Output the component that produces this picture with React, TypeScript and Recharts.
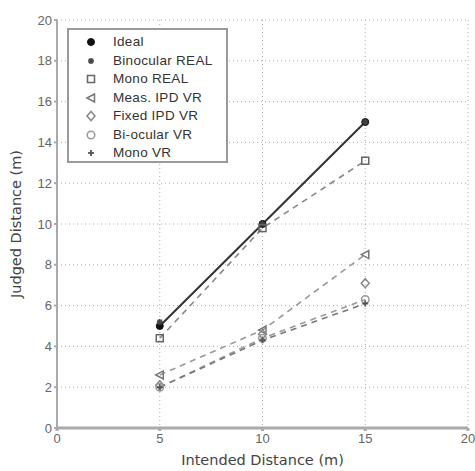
import React from "react";
import { LineChart, Line, XAxis, YAxis, CartesianGrid, Legend } from "recharts";

const intended = [5, 10, 15];
const ideal = [5, 10, 15];
const binocularReal = [5.2, 10.0, 15.0];
const monoReal = [4.4, 9.8, 13.1];
const measIpdVr = [2.6, 4.8, 8.5];
const fixedIpdVr = [2.1, 4.6, 7.1];
const biocularVr = [2.0, 4.4, 6.3];
const monoVr = [2.0, 4.3, 6.1];
const xTicks = [0, 5, 10, 15, 20];
const yTicks = [0, 2, 4, 6, 8, 10, 12, 14, 16, 18, 20];

type Mk = "dot" | "star" | "square" | "tri" | "diamond" | "circle" | "plus";

const series: { name: string; values: number[]; marker: Mk; color: string; line: string; dash?: string }[] = [
  { name: "Ideal", values: ideal, marker: "dot", color: "#111", line: "#333" },
  { name: "Binocular REAL", values: binocularReal, marker: "star", color: "#444", line: "none" },
  { name: "Mono REAL", values: monoReal, marker: "square", color: "#666", line: "#888", dash: "6 5" },
  { name: "Meas. IPD VR", values: measIpdVr, marker: "tri", color: "#777", line: "#999", dash: "6 5" },
  { name: "Fixed IPD VR", values: fixedIpdVr, marker: "diamond", color: "#888", line: "none" },
  { name: "Bi-ocular VR", values: biocularVr, marker: "circle", color: "#999", line: "#999", dash: "6 5" },
  { name: "Mono VR", values: monoVr, marker: "plus", color: "#555", line: "#777", dash: "6 5" },
];

function Marker({ kind, cx, cy, color }: { kind: Mk; cx: number; cy: number; color: string }) {
  switch (kind) {
    case "dot":
      return <circle cx={cx} cy={cy} r={3.5} fill={color} stroke={color} />;
    case "star":
      return (
        <g stroke={color} strokeWidth={1.6}>
          <line x1={cx - 3} y1={cy} x2={cx + 3} y2={cy} />
          <line x1={cx} y1={cy - 3} x2={cx} y2={cy + 3} />
          <line x1={cx - 2.2} y1={cy - 2.2} x2={cx + 2.2} y2={cy + 2.2} />
          <line x1={cx - 2.2} y1={cy + 2.2} x2={cx + 2.2} y2={cy - 2.2} />
        </g>
      );
    case "square":
      return <rect x={cx - 3.5} y={cy - 3.5} width={7} height={7} fill="none" stroke={color} strokeWidth={1.5} />;
    case "tri":
      return <polygon points={`${cx - 4},${cy} ${cx + 3.5},${cy - 4} ${cx + 3.5},${cy + 4}`} fill="none" stroke={color} strokeWidth={1.5} />;
    case "diamond":
      return <polygon points={`${cx},${cy - 4.5} ${cx + 4},${cy} ${cx},${cy + 4.5} ${cx - 4},${cy}`} fill="none" stroke={color} strokeWidth={1.5} />;
    case "circle":
      return <circle cx={cx} cy={cy} r={3.8} fill="none" stroke={color} strokeWidth={1.5} />;
    case "plus":
    default:
      return (
        <g stroke={color} strokeWidth={1.8}>
          <line x1={cx - 3} y1={cy} x2={cx + 3} y2={cy} />
          <line x1={cx} y1={cy - 3} x2={cx} y2={cy + 3} />
        </g>
      );
  }
}

const renderLegend = () => (
  <div
    style={{
      border: "2px solid #9a9a9a",
      background: "#fff",
      width: 161,
      height: 135,
      boxSizing: "border-box",
      paddingTop: 3,
      fontFamily: "'Liberation Sans', Arial, sans-serif",
      fontSize: 13.5,
      lineHeight: "18.5px",
      color: "#333",
    }}
  >
    {series.map((s) => (
      <div key={s.name} style={{ display: "flex", alignItems: "center", height: 18.5 }}>
        <svg width={44} height={18} style={{ flex: "none" }}>
          <Marker kind={s.marker} cx={22} cy={9} color={s.color} />
        </svg>
        <span style={{ whiteSpace: "nowrap", letterSpacing: 0.3 }}>{s.name}</span>
      </div>
    ))}
  </div>
);

export default function App() {
  return (
    <div style={{ position: "absolute", left: 0, top: 0, background: "#fff" }}>
      <LineChart width={475} height={471} margin={{ top: 20, right: 7, left: 0, bottom: 0 }}>
        <CartesianGrid stroke="#aaa" strokeDasharray="1 3" horizontal vertical />
        <XAxis
          type="number"
          dataKey="x"
          domain={[0, 20]}
          ticks={xTicks}
          height={43}
          stroke="#aaa"
          strokeWidth={3}
          tickSize={3}
          tickMargin={3}
          tick={{ fill: "#666", fontSize: 13, fontFamily: "'Liberation Sans', Arial, sans-serif" }}
          label={{
            value: "Intended Distance (m)",
            position: "insideBottom",
            offset: 6,
            fill: "#444",
            fontSize: 14.5,
            fontFamily: "'DejaVu Sans', sans-serif",
          }}
        />
        <YAxis
          type="number"
          domain={[0, 20]}
          ticks={yTicks}
          width={57}
          stroke="#aaa"
          strokeWidth={2}
          tickSize={3}
          tickMargin={2}
          tick={{ fill: "#666", fontSize: 13, fontFamily: "'Liberation Sans', Arial, sans-serif" }}
          label={{
            value: "Judged Distance (m)",
            angle: -90,
            position: "insideLeft",
            offset: 16,
            style: { textAnchor: "middle" },
            fill: "#444",
            fontSize: 14.5,
            fontFamily: "'DejaVu Sans', sans-serif",
          }}
        />
        <Legend
          layout="vertical"
          align="center"
          verticalAlign="middle"
          content={renderLegend}
          wrapperStyle={{ left: 67, top: 28, width: 161, height: 135 }}
        />
        {series.map((s) => (
          <Line
            key={s.name}
            name={s.name}
            data={intended.map((x, i) => ({ x, y: s.values[i] }))}
            dataKey="y"
            stroke={s.line}
            strokeWidth={s.dash ? 1.6 : 2}
            strokeDasharray={s.dash}
            isAnimationActive={false}
            dot={(p: any) => <Marker key={`${s.name}-${p.index}`} kind={s.marker} cx={p.cx} cy={p.cy} color={s.color} />}
            activeDot={false}
          />
        ))}
      </LineChart>
    </div>
  );
}
